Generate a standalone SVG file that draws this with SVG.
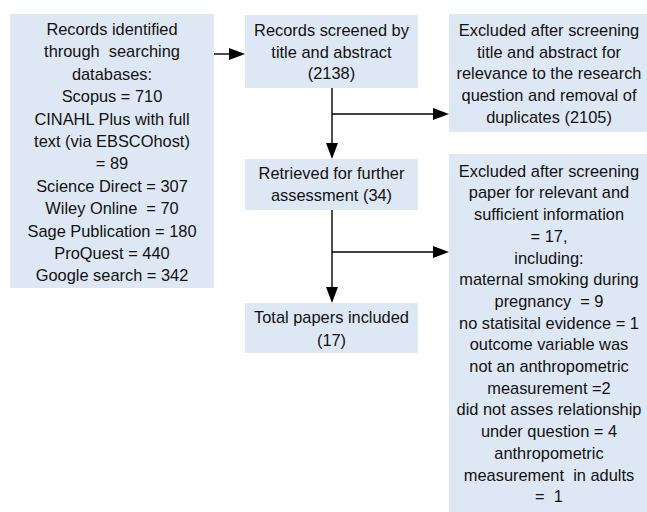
<svg xmlns="http://www.w3.org/2000/svg" width="647" height="512" viewBox="0 0 647 512">
<defs>
<style>
.box{fill:#dee8f4;stroke:none}
.t{font-family:"Liberation Sans",Arial,sans-serif;font-size:16.4px;fill:#111;text-anchor:middle;white-space:pre}
.c{fill:none;stroke:#000;stroke-width:1.4}
</style>
<marker id="ah" markerUnits="userSpaceOnUse" markerWidth="16" markerHeight="12" refX="8" refY="6" orient="auto">
<path d="M0,0 L16,6 L0,12 z" fill="#000"/>
</marker>
</defs>
<rect width="647" height="512" fill="#fff"/>
<g id="records">
<rect class="box" x="10" y="14" width="204" height="274"/>
<text class="t" x="112" y="35">Records identified</text>
<text class="t" x="112" y="57.4">through  searching</text>
<text class="t" x="112" y="79.8">databases:</text>
<text class="t" x="112" y="102.2">Scopus = 710</text>
<text class="t" x="112" y="124.6">CINAHL Plus with full</text>
<text class="t" x="112" y="147">text (via EBSCOhost)</text>
<text class="t" x="112" y="169.4">= 89</text>
<text class="t" x="112" y="191.8">Science Direct = 307</text>
<text class="t" x="112" y="214.2">Wiley Online  = 70</text>
<text class="t" x="112" y="236.6">Sage Publication = 180</text>
<text class="t" x="112" y="259">ProQuest = 440</text>
<text class="t" x="112" y="281.4">Google search = 342</text>
</g>
<g id="screened">
<rect class="box" x="245" y="15" width="173" height="73"/>
<text class="t" x="331.5" y="36">Records screened by</text>
<text class="t" x="331.5" y="57.7">title and abstract</text>
<text class="t" x="331.5" y="79.4">(2138)</text>
</g>
<g id="excluded1">
<rect class="box" x="449" y="14" width="200" height="118"/>
<text class="t" x="549" y="36">Excluded after screening</text>
<text class="t" x="549" y="57.7">title and abstract for</text>
<text class="t" x="549" y="79.4">relevance to the research</text>
<text class="t" x="549" y="101.1">question and removal of</text>
<text class="t" x="549" y="122.8">duplicates (2105)</text>
</g>
<g id="retrieved">
<rect class="box" x="245" y="159" width="173" height="51"/>
<text class="t" x="331.5" y="179">Retrieved for further</text>
<text class="t" x="331.5" y="200.7">assessment (34)</text>
</g>
<g id="excluded2">
<rect class="box" x="449" y="154" width="200" height="360"/>
<text class="t" x="549" y="176.7">Excluded after screening</text>
<text class="t" x="549" y="198.4">paper for relevant and</text>
<text class="t" x="549" y="220.1">sufficient information</text>
<text class="t" x="549" y="241.8">= 17,</text>
<text class="t" x="549" y="263.5">including:</text>
<text class="t" x="549" y="285.2">maternal smoking during</text>
<text class="t" x="549" y="306.9">pregnancy  = 9</text>
<text class="t" x="549" y="328.6">no statisital evidence = 1</text>
<text class="t" x="549" y="350.3">outcome variable was</text>
<text class="t" x="549" y="372">not an anthropometric</text>
<text class="t" x="549" y="393.7">measurement =2</text>
<text class="t" x="549" y="415.4">did not asses relationship</text>
<text class="t" x="549" y="437.1">under question = 4</text>
<text class="t" x="549" y="458.8">anthropometric</text>
<text class="t" x="549" y="480.5">measurement  in adults</text>
<text class="t" x="549" y="502.2">=  1</text>
</g>
<g id="total">
<rect class="box" x="245" y="303" width="173" height="50"/>
<text class="t" x="331.5" y="323">Total papers included</text>
<text class="t" x="331.5" y="345.5">(17)</text>
</g>
<g id="connectors">
<path class="c" d="M214,54 H237" marker-end="url(#ah)"/>
<path class="c" d="M332,88 V151" marker-end="url(#ah)"/>
<path class="c" d="M332,114 H441" marker-end="url(#ah)"/>
<path class="c" d="M332,210 V295" marker-end="url(#ah)"/>
<path class="c" d="M332,252 H441" marker-end="url(#ah)"/>
</g>
</svg>
